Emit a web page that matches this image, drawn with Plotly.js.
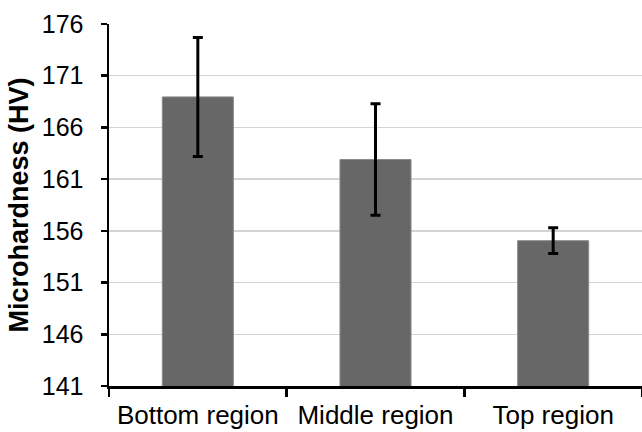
<!DOCTYPE html>
<html>
<head>
<meta charset="utf-8">
<script src="https://cdn.plot.ly/plotly-3.0.1.min.js"></script>
<style>html,body{margin:0;padding:0;background:#fff;}#chart{width:642px;height:432px;}</style>
</head>
<body>
<div id="chart"></div>
<script>
const categories = ['Bottom region', 'Middle region', 'Top region'];
const hardness = [168.95, 162.9, 155.05];
const hardnessError = [5.75, 5.4, 1.25];
const yTicks = [141, 146, 151, 156, 161, 166, 171, 176];

const trace = {
  type: 'bar',
  x: categories,
  y: hardness,
  base: 0,
  marker: { color: '#676767', line: { color: '#8a8a8a', width: 1 } },
  error_y: { type: 'data', array: hardnessError, visible: true, color: '#000', thickness: 3, width: 5 },
  hoverinfo: 'none'
};

const layout = {
  width: 642, height: 432,
  margin: { l: 109, r: 0, t: 24, b: 46 },
  paper_bgcolor: '#fff', plot_bgcolor: '#fff',
  bargap: 0.6,
  showlegend: false,
  font: { family: 'Liberation Sans, Arial, sans-serif', color: '#000' },
  xaxis: {
    type: 'category',
    range: [-0.5, 2.5],
    showline: true, linecolor: '#000', linewidth: 2.5,
    ticks: 'outside', tickson: 'boundaries', ticklen: 8, tickwidth: 2.5, tickcolor: '#000',
    tickfont: { size: 26, color: '#000' },
    ticklabelstandoff: 4,
    showgrid: false, zeroline: false
  },
  yaxis: {
    range: [141, 176],
    tickvals: yTicks,
    ticktext: yTicks.map(String),
    showline: true, linecolor: '#000', linewidth: 2.5,
    ticks: 'outside', ticklen: 6, tickwidth: 2.5, tickcolor: '#000',
    tickfont: { size: 25, color: '#000' },
    ticklabelstandoff: 12,
    showgrid: true, gridcolor: '#d4d4d4', gridwidth: 1.5,
    zeroline: false,
    title: { text: 'Microhardness (HV)', font: { size: 27, color: '#000', family: 'Liberation Sans, Arial, sans-serif', weight: 'bold' }, standoff: 6 }
  }
};

Plotly.newPlot('chart', [trace], layout, { staticPlot: true, displayModeBar: false });
</script>
</body>
</html>
